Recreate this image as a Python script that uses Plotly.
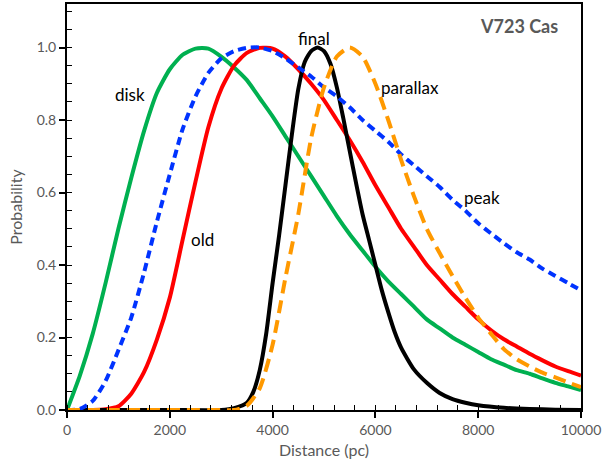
import plotly.graph_objects as go

distance = [0, 250, 500, 750, 1000, 1250, 1500, 1750, 2000, 2250, 2500, 2750, 3000, 3250, 3500, 3750,
            4000, 4250, 4500, 4750, 5000, 5250, 5500, 5750, 6000, 6250, 6500, 6750, 7000, 7250, 7500,
            7750, 8000, 8250, 8500, 8750, 9000, 9250, 9500, 9750, 10000]

disk = [0.0, 0.095, 0.21, 0.35, 0.50, 0.64, 0.77, 0.875, 0.94, 0.98, 0.997, 0.997, 0.975, 0.945, 0.91, 0.86,
        0.81, 0.755, 0.70, 0.645, 0.59, 0.535, 0.485, 0.44, 0.395, 0.355, 0.32, 0.285, 0.25, 0.225, 0.20,
        0.18, 0.16, 0.14, 0.125, 0.11, 0.10, 0.087, 0.075, 0.065, 0.055]

old = [0.0, 0.0, 0.0, 0.002, 0.01, 0.045, 0.105, 0.195, 0.31, 0.47, 0.63, 0.78, 0.885, 0.95, 0.985, 0.999,
       0.997, 0.975, 0.94, 0.90, 0.855, 0.80, 0.745, 0.685, 0.62, 0.56, 0.50, 0.45, 0.40, 0.36, 0.32,
       0.285, 0.25, 0.22, 0.195, 0.175, 0.155, 0.137, 0.12, 0.107, 0.095]

peak = [0.0, 0.003, 0.025, 0.08, 0.165, 0.255, 0.38, 0.52, 0.65, 0.775, 0.865, 0.93, 0.97, 0.99, 0.999, 1.0,
        0.99, 0.97, 0.945, 0.92, 0.89, 0.865, 0.835, 0.80, 0.77, 0.74, 0.705, 0.675, 0.645, 0.615, 0.58,
        0.55, 0.515, 0.487, 0.46, 0.435, 0.415, 0.39, 0.37, 0.35, 0.33]

final_distance = [0, 1000, 2000, 3000, 3250, 3500, 3625, 3750, 3875, 4000, 4125, 4250, 4375, 4500, 4625,
                  4750, 4875, 5000, 5125, 5250, 5375, 5500, 5625, 5750, 5875, 6000, 6125, 6250, 6375,
                  6500, 6750, 7000, 7250, 7500, 7750, 8000, 8500, 9000, 9500, 10000]
final = [0.0, 0.0, 0.0, 0.0, 0.005, 0.02, 0.05, 0.11, 0.21, 0.35, 0.48, 0.62, 0.76, 0.885, 0.96,
         0.99, 1.0, 0.99, 0.955, 0.89, 0.805, 0.715, 0.625, 0.54, 0.47, 0.40, 0.33, 0.27, 0.215,
         0.172, 0.112, 0.075, 0.047, 0.03, 0.02, 0.013, 0.006, 0.003, 0.001, 0.0]

parallax = [0.0, 0.0, 0.0, 0.0, 0.0, 0.0, 0.0, 0.0, 0.0, 0.0, 0.0, 0.0, 0.0, 0.0, 0.012, 0.06,
            0.18, 0.365, 0.54, 0.75, 0.89, 0.975, 1.0, 0.975, 0.90, 0.80, 0.69, 0.59, 0.50, 0.433, 0.37,
            0.31, 0.255, 0.21, 0.168, 0.14, 0.12, 0.103, 0.09, 0.076, 0.063]

labels = ["disk", "old", "final", "parallax", "peak"]
label_x = [1230, 2630, 4800, 6680, 8080]
label_y = [0.87, 0.47, 1.025, 0.89, 0.585]

FONT = "Lato, 'Open Sans', sans-serif"
GREY = "#595959"

fig = go.Figure()

series = [
    (distance, disk, "#00B050", None),
    (distance, old, "#FF0000", None),
    (final_distance, final, "#000000", None),
    (distance, peak, "#0033FF", "8px,5px"),
    (distance, parallax, "#FF9900", "13px,7px"),
]
for xs, ys, col, dash in series:
    fig.add_trace(go.Scatter(x=xs, y=ys, mode="lines",
                             line=dict(color=col, width=4, shape="spline", smoothing=0.6,
                                       dash=dash if dash else "solid"),
                             showlegend=False, hoverinfo="skip"))

for t, lx, ly in zip(labels, label_x, label_y):
    fig.add_annotation(x=lx, y=ly, text=t, showarrow=False,
                       font=dict(family=FONT, size=17, color="#000000"))

fig.add_annotation(x=8790, y=1.058, text="<b>V723 Cas</b>", showarrow=False,
                   font=dict(family=FONT, size=18, color=GREY))

fig.update_layout(
    template="simple_white",
    width=603, height=473,
    margin=dict(l=67, r=22, t=4, b=63),
    paper_bgcolor="white", plot_bgcolor="white",
    font=dict(family=FONT, color=GREY),
    xaxis=dict(range=[0, 10000], tickmode="linear", tick0=0, dtick=2000, tickformat="d",
               showgrid=False, zeroline=False, automargin=False,
               showline=True, linecolor="black", linewidth=2, mirror=True,
               ticks="outside", ticklen=6, tickwidth=2, tickcolor="#000000",
               minor=dict(tickmode="linear", tick0=0, dtick=400, ticks="inside", ticklen=5,
                          tickwidth=1.2, tickcolor="#000000", showgrid=False),
               tickfont=dict(size=14, color=GREY),
               title=dict(text="Distance (pc)", font=dict(size=16, color=GREY), standoff=8)),
    yaxis=dict(range=[0, 1.12], tickmode="linear", tick0=0, dtick=0.2, tickformat=".1f",
               showgrid=False, zeroline=False, automargin=False,
               showline=True, linecolor="black", linewidth=2, mirror=True,
               ticks="outside", ticklen=6, tickwidth=2, tickcolor="#000000",
               minor=dict(tickmode="linear", tick0=0, dtick=0.05, ticks="inside", ticklen=5,
                          tickwidth=1.2, tickcolor="#000000", showgrid=False),
               tickfont=dict(size=14, color=GREY),
               title=dict(text="Probability", font=dict(size=16, color=GREY), standoff=10)),
)

fig.write_html("out.html", config={"displayModeBar": False},
               post_script="document.body.style.margin='0';")
